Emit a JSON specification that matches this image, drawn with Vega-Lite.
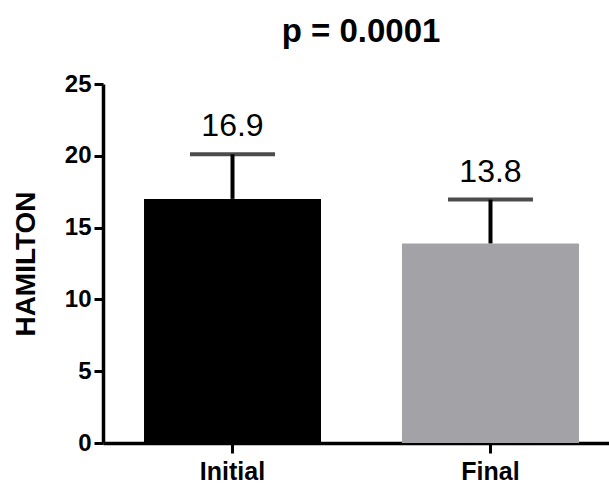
{
  "$schema": "https://vega.github.io/schema/vega-lite/v6.json",
  "width": 506,
  "height": 359,
  "autosize": {"type": "none"},
  "padding": {"left": 103, "top": 84, "right": 0, "bottom": 42},
  "background": "white",
  "title": {
    "text": "p = 0.0001",
    "font": "Liberation Sans",
    "fontSize": 33,
    "fontWeight": "bold",
    "color": "black",
    "anchor": "middle",
    "baseline": "alphabetic",
    "offset": -3,
    "dx": 5
  },
  "config": {
    "view": {"stroke": null},
    "axis": {
      "labelFont": "Liberation Sans",
      "titleFont": "Liberation Sans",
      "labelFontWeight": "bold",
      "titleFontWeight": "bold",
      "labelColor": "black",
      "titleColor": "black",
      "domainColor": "black",
      "tickColor": "black",
      "domainWidth": 3.5,
      "tickWidth": 3,
      "grid": false
    }
  },
  "data": {
    "values": [
      {"group": "Initial", "mean": 17.0, "upper": 20.1, "label": "16.9"},
      {"group": "Final", "mean": 13.9, "upper": 16.95, "label": "13.8"}
    ]
  },
  "encoding": {
    "x": {
      "field": "group",
      "type": "nominal",
      "sort": ["Initial", "Final"],
      "scale": {"range": [0, 517], "paddingInner": 0.314, "paddingOuter": 0.159},
      "axis": {
        "title": null,
        "labelAngle": 0,
        "labelFontSize": 25,
        "labelPadding": 6,
        "tickSize": 10
      }
    }
  },
  "layer": [
    {
      "mark": {"type": "bar"},
      "encoding": {
        "y": {
          "field": "mean",
          "type": "quantitative",
          "scale": {"domain": [0, 25], "nice": false},
          "axis": {
            "title": "HAMILTON",
            "titleFontSize": 28,
            "titlePadding": 24,
            "labelFontSize": 24,
            "labelPadding": 3,
            "tickSize": 9,
            "values": [0, 5, 10, 15, 20, 25]
          }
        },
        "color": {
          "field": "group",
          "type": "nominal",
          "scale": {"domain": ["Initial", "Final"], "range": ["#000000", "#a3a2a7"]},
          "legend": null
        }
      }
    },
    {
      "mark": {"type": "rule", "color": "black", "strokeWidth": 4},
      "encoding": {
        "y": {"field": "mean", "type": "quantitative"},
        "y2": {"field": "upper"}
      }
    },
    {
      "mark": {"type": "tick", "color": "black", "thickness": 4, "size": 85, "orient": "horizontal"},
      "encoding": {
        "y": {"field": "upper", "type": "quantitative"}
      }
    },
    {
      "mark": {"type": "text", "font": "Liberation Sans", "fontSize": 32, "color": "black", "baseline": "alphabetic", "dy": -18},
      "encoding": {
        "y": {"field": "upper", "type": "quantitative"},
        "text": {"field": "label"}
      }
    }
  ]
}
